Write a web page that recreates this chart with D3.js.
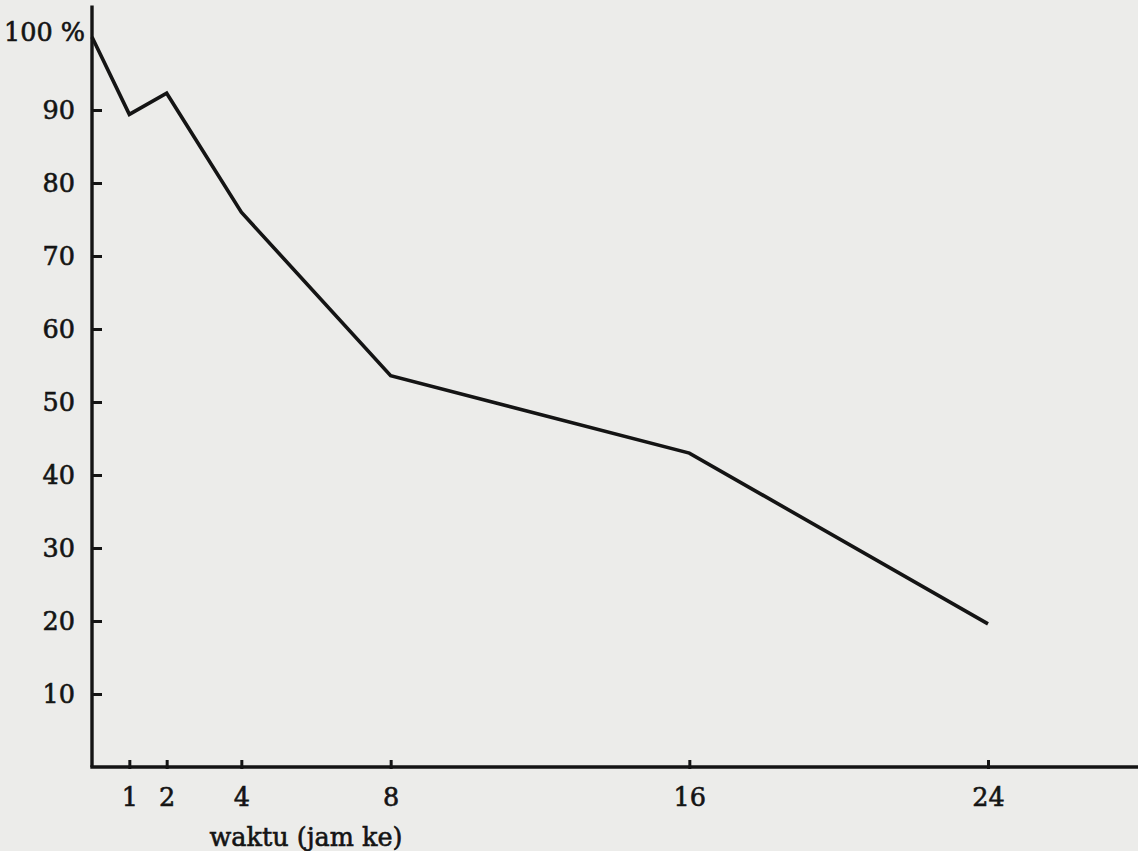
<!DOCTYPE html>
<html>
<head>
<meta charset="utf-8">
<script src="https://cdn.jsdelivr.net/npm/d3@7"></script>
<style>
  html, body { margin: 0; padding: 0; background: #ececea; }
  svg { display: block; }
</style>
</head>
<body>
<script>
// ---- data ----
const hours = [0, 1, 2, 4, 8, 16, 24];
const survival = [100, 89.4, 92.3, 76.0, 53.6, 43.0, 19.6];
const xTickValues = [1, 2, 4, 8, 16, 24];
const yTickValues = [10, 20, 30, 40, 50, 60, 70, 80, 90];
const topLabel = "100 %";
const xTitle = "waktu (jam ke)";

const W = 1138, H = 851;
const ink = "#141414";
const font = "'DejaVu Serif', 'Liberation Serif', serif";

const svg = d3.select("body").append("svg").attr("width", W).attr("height", H);
svg.append("rect").attr("width", W).attr("height", H).attr("fill", "#ececea");

const x = d3.scaleLinear().domain([0, 24]).range([92, 988]);
const y = d3.scaleLinear().domain([0, 100]).range([767, 37]);

function styleText(sel) {
  sel.attr("fill", ink)
    .attr("stroke", ink).attr("stroke-width", 0.6)
    .style("font-family", font).style("font-size", "25.5px");
}

// axis lines
svg.append("line")
  .attr("x1", x(0)).attr("x2", x(0))
  .attr("y1", y(0)).attr("y2", y(104.3))
  .attr("stroke", ink).attr("stroke-width", 3.4);
svg.append("line")
  .attr("x1", x(0) - 1.7).attr("x2", x(28.2))
  .attr("y1", y(0)).attr("y2", y(0))
  .attr("stroke", ink).attr("stroke-width", 3.4);

// y axis ticks & labels
const yAxis = d3.axisLeft(y).tickValues(yTickValues)
  .tickSizeInner(-10).tickSizeOuter(0).tickPadding(17)
  .tickFormat(d3.format("d"));
const gy = svg.append("g").attr("transform", `translate(${x(0)},0)`).call(yAxis);
gy.select(".domain").remove();
gy.selectAll(".tick line").attr("stroke", ink).attr("stroke-width", 3);
gy.selectAll(".tick text").call(styleText);

// top label (100 %)
svg.append("text")
  .attr("x", x(0) - 7).attr("y", y(100) - 5)
  .attr("dy", "0.35em")
  .attr("text-anchor", "end")
  .call(styleText)
  .text(topLabel);

// x axis ticks & labels
const xAxis = d3.axisBottom(x).tickValues(xTickValues)
  .tickSizeInner(-7).tickSizeOuter(0).tickPadding(21)
  .tickFormat(d3.format("d"));
const gx = svg.append("g").attr("transform", `translate(0,${y(0)})`).call(xAxis);
gx.select(".domain").remove();
gx.selectAll(".tick line").attr("stroke", ink).attr("stroke-width", 3).attr("y2", -7).attr("y1", 2);
gx.selectAll(".tick text").call(styleText);

// x title
svg.append("text")
  .attr("x", 306).attr("y", 846)
  .attr("text-anchor", "middle")
  .call(styleText)
  .text(xTitle);

// line
const pts = hours.map((h, i) => [h, survival[i]]);
svg.append("path")
  .datum(pts)
  .attr("fill", "none")
  .attr("stroke", ink)
  .attr("stroke-width", 3.6)
  .attr("stroke-linejoin", "miter")
  .attr("d", d3.line().x(d => x(d[0])).y(d => y(d[1])));
</script>
</body>
</html>
